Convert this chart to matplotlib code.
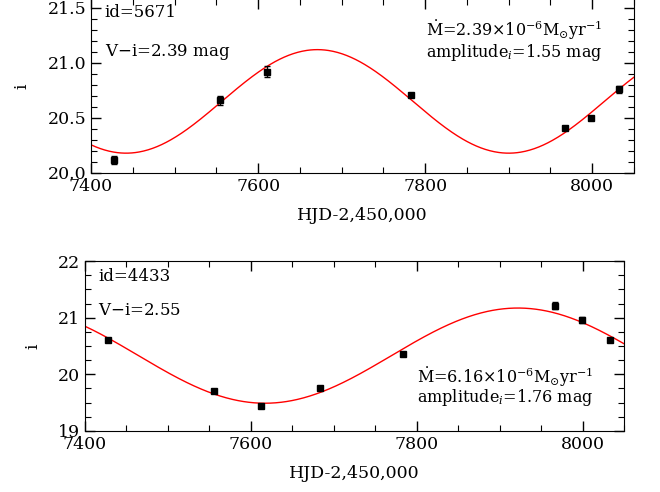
import numpy as np
import matplotlib
matplotlib.use('Agg')
import matplotlib.pyplot as plt
from matplotlib.ticker import MultipleLocator, FormatStrFormatter

plt.rcParams['font.family'] = ['DejaVu Serif']
plt.rcParams['mathtext.fontset'] = 'dejavuserif'

### Data
# star id=5671
hjd_a = [7427, 7555, 7611, 7783, 7967, 7998, 8032]
mag_a = [20.12, 20.66, 20.92, 20.71, 20.41, 20.50, 20.76]
err_a = [0.035, 0.04, 0.05, 0.015, 0.015, 0.015, 0.03]
# sine model: mean, half-amplitude, period, epoch of minimum
fit_a = (20.65, 0.47, 458.0, 7442.0)

# star id=4433
hjd_b = [7428, 7556, 7612, 7683, 7783, 7967, 7999, 8033]
mag_b = [20.60, 19.71, 19.44, 19.75, 20.36, 21.21, 20.96, 20.60]
err_b = [0.03, 0.03, 0.03, 0.03, 0.03, 0.06, 0.05, 0.03]
fit_b = (20.33, 0.84, 610.0, 7617.0)


def sineModel(t, fit):
    mean, amp, period, tmin = fit
    return mean - amp * np.cos(2 * np.pi * (t - tmin) / period)


def styleAxis(ax, ymaj, ymin):
    ax.set_xlim(7400, 8050)
    ax.xaxis.set_major_locator(MultipleLocator(200))
    ax.xaxis.set_minor_locator(MultipleLocator(50))
    ax.yaxis.set_major_locator(MultipleLocator(ymaj))
    ax.yaxis.set_minor_locator(MultipleLocator(ymin))
    ax.tick_params(which='both', direction='in', top=True, right=True, labelsize=12.5)
    ax.tick_params(which='major', length=7, width=1)
    ax.tick_params(which='minor', length=4, width=0.8)
    ax.set_xlabel('HJD-2,450,000', fontsize=12.5, labelpad=9)
    ax.set_ylabel('i', fontsize=12.5, labelpad=12)


fig = plt.figure(figsize=(6.6, 4.92), dpi=100)
tt = np.linspace(7400, 8050, 600)

# top panel
ax1 = fig.add_axes([0.1379, 0.6484, 0.8227, 0.3537])
ax1.plot(tt, sineModel(tt, fit_a), color='red', lw=1)
ax1.errorbar(hjd_a, mag_a, yerr=err_a, fmt='s', color='black', ms=5, capsize=2, elinewidth=1)
ax1.set_ylim(20.0, 21.58)
styleAxis(ax1, 0.5, 0.1)
ax1.yaxis.set_major_formatter(FormatStrFormatter('%.1f'))
ax1.text(0.025, 0.925, 'id=5671', transform=ax1.transAxes, fontsize=12, va='center', ha='left')
ax1.text(0.025, 0.695, 'V$-$i=2.39 mag', transform=ax1.transAxes, fontsize=12, va='center', ha='left')
ax1.text(0.78, 0.82, r'$\dot{\rm M}$=2.39$\times$10$^{-6}$M$_{\odot}$yr$^{-1}$',
         transform=ax1.transAxes, fontsize=11.5, va='center', ha='center')
ax1.text(0.78, 0.69, 'amplitude$_i$=1.55 mag', transform=ax1.transAxes, fontsize=11.5,
         va='center', ha='center')

# bottom panel
ax2 = fig.add_axes([0.1288, 0.124, 0.8167, 0.3455])
ax2.plot(tt, sineModel(tt, fit_b), color='red', lw=1)
ax2.errorbar(hjd_b, mag_b, yerr=err_b, fmt='s', color='black', ms=5, capsize=2, elinewidth=1)
ax2.set_ylim(19, 22)
styleAxis(ax2, 1, 0.25)
ax2.text(0.025, 0.91, 'id=4433', transform=ax2.transAxes, fontsize=12, va='center', ha='left')
ax2.text(0.025, 0.71, 'V$-$i=2.55', transform=ax2.transAxes, fontsize=12, va='center', ha='left')
ax2.text(0.78, 0.318, r'$\dot{\rm M}$=6.16$\times$10$^{-6}$M$_{\odot}$yr$^{-1}$',
         transform=ax2.transAxes, fontsize=11.5, va='center', ha='center')
ax2.text(0.78, 0.195, 'amplitude$_i$=1.76 mag', transform=ax2.transAxes, fontsize=11.5,
         va='center', ha='center')

fig.savefig('out.png', dpi=100)
plt.close(fig)
